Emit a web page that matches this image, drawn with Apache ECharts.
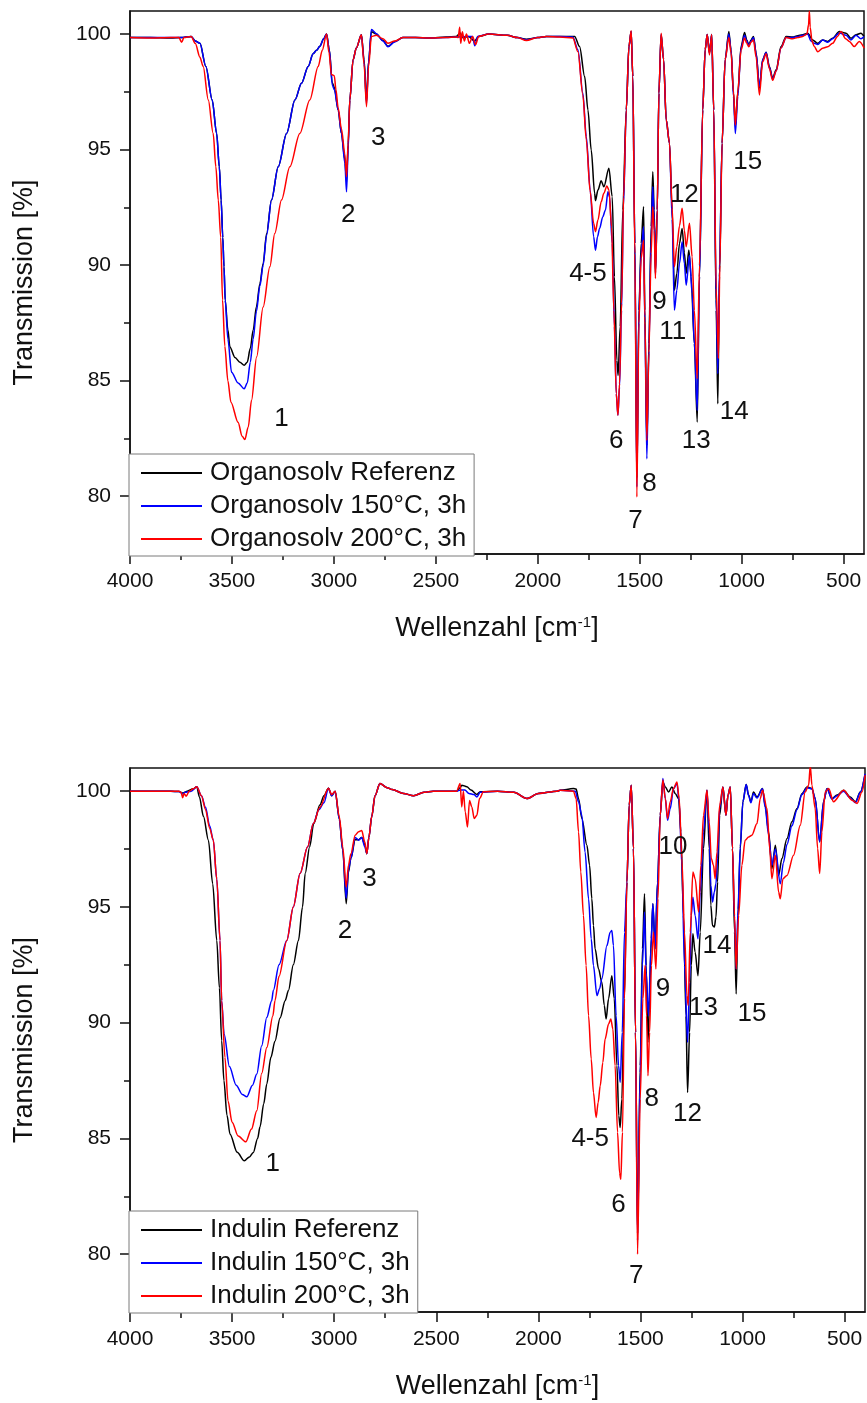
<!DOCTYPE html>
<html>
<head>
<meta charset="utf-8">
<title>FTIR Organosolv / Indulin</title>
<script src="https://cdn.jsdelivr.net/npm/echarts@6/dist/echarts.min.js"></script>
<style>
  html, body { margin: 0; padding: 0; background: #ffffff; }
  #chart { width: 867px; height: 1403px; }
</style>
</head>
<body>
<div id="chart"></div>
<script>
// ---- axis ticks ----
const xMajorTicks = [4000, 3500, 3000, 2500, 2000, 1500, 1000, 500];
const xMinorTicks = [3750, 3250, 2750, 2250, 1750, 1250, 750];
const yMajorTicks = [80, 85, 90, 95, 100];
const yMinorTicks = [82.5, 87.5, 92.5, 97.5];

// ---- series names ----
const topNames = ['Organosolv Referenz', 'Organosolv 150°C, 3h', 'Organosolv 200°C, 3h'];
const bottomNames = ['Indulin Referenz', 'Indulin 150°C, 3h', 'Indulin 200°C, 3h'];

// ---- spectra: [wavenumber (cm-1), transmission (%)] ----
const orgRef = [[4000,99.85],[3900,99.85],[3800,99.83],[3750,99.85],[3700,99.9],[3680,99.7],[3657,99.6],[3628,98.6],[3597,97.15],[3575,95.7],[3562,94.26],[3553,92.82],[3545,91.2],[3539,89.93],[3533,88.49],[3520,87.2],[3510,86.46],[3485,86.0],[3461,85.8],[3440,85.67],[3425,85.8],[3410,86.4],[3396,87.18],[3380,88.2],[3363,89.2],[3347,90.07],[3330,91.37],[3306,92.82],[3273,94.26],[3232,95.7],[3191,97.15],[3159,97.87],[3126,98.6],[3102,99.15],[3085,99.3],[3069,99.47],[3050,99.8],[3036,100.0],[3022,99.3],[3008,97.9],[2998,97.7],[2979,96.72],[2963,95.7],[2946,94.55],[2938,93.6],[2930,95.2],[2922,97.15],[2906,98.88],[2890,99.4],[2865,99.97],[2852,98.9],[2840,97.1],[2830,98.8],[2816,100.1],[2792,100.0],[2759,99.72],[2735,99.47],[2702,99.68],[2662,99.85],[2600,99.85],[2530,99.83],[2450,99.88],[2400,99.9],[2380,100.05],[2370,99.85],[2340,99.9],[2310,99.7],[2290,99.9],[2240,100.0],[2150,99.95],[2100,99.85],[2056,99.78],[2000,99.85],[1958,99.9],[1893,99.9],[1819,99.9],[1795,99.46],[1770,98.16],[1754,96.72],[1738,94.99],[1721,93.11],[1717,92.79],[1705,93.25],[1689,93.65],[1676,93.39],[1651,94.19],[1635,92.96],[1624,89.5],[1612,85.88],[1606,85.23],[1596,87.33],[1583,92.39],[1566,96.72],[1553,99.46],[1542,100.11],[1534,98.16],[1524,90.94],[1514,80.8],[1504,88.05],[1493,90.94],[1481,92.53],[1475,88.05],[1465,82.2],[1455,86.6],[1444,91.66],[1436,94.04],[1429,92.39],[1423,89.7],[1414,92.39],[1406,97.45],[1395,99.98],[1383,98.9],[1370,96.29],[1354,95.28],[1341,92.39],[1330,88.92],[1318,89.64],[1305,90.94],[1292,91.59],[1281,90.53],[1272,89.64],[1259,90.66],[1248,89.5],[1232,86.6],[1218,83.21],[1207,89.5],[1191,96.72],[1179,99.32],[1169,99.98],[1158,99.18],[1147,99.98],[1137,96.72],[1125,88.05],[1117,84.0],[1109,89.5],[1096,95.28],[1081,98.9],[1063,100.11],[1052,99.32],[1040,97.45],[1031,96.0],[1019,97.45],[1003,99.46],[986,100.07],[975,99.75],[965,99.53],[954,99.75],[942,99.9],[929,99.18],[913,97.66],[897,98.9],[880,99.21],[864,98.6],[848,98.09],[831,98.46],[807,99.46],[782,99.9],[750,99.87],[725,99.93],[701,99.97],[676,100.04],[652,99.75],[627,99.6],[603,99.75],[578,99.68],[554,99.82],[521,100.11],[488,100.04],[464,99.82],[439,99.97],[415,100.04],[400,99.9]];

const org150 = [[4000,99.85],[3900,99.85],[3800,99.85],[3750,99.85],[3700,99.9],[3680,99.7],[3657,99.6],[3628,98.6],[3597,97.15],[3575,95.7],[3562,94.26],[3553,92.82],[3545,91.2],[3539,89.93],[3533,88.49],[3520,86.8],[3502,85.37],[3470,84.9],[3440,84.65],[3425,84.9],[3410,85.8],[3396,86.8],[3380,88.0],[3363,89.1],[3347,90.0],[3330,91.3],[3306,92.82],[3273,94.26],[3232,95.7],[3191,97.15],[3159,97.87],[3126,98.6],[3102,99.15],[3085,99.3],[3069,99.47],[3050,99.8],[3036,100.0],[3022,99.3],[3008,97.8],[2998,97.6],[2979,96.72],[2963,95.7],[2946,94.4],[2938,93.18],[2930,95.0],[2922,97.15],[2906,98.88],[2890,99.4],[2865,99.97],[2852,98.8],[2840,97.0],[2830,98.8],[2816,100.2],[2792,100.02],[2759,99.7],[2735,99.45],[2702,99.66],[2662,99.85],[2600,99.85],[2530,99.83],[2450,99.85],[2400,99.88],[2340,99.9],[2320,99.9],[2309,99.5],[2295,99.9],[2240,100.0],[2150,99.95],[2100,99.85],[2056,99.76],[2000,99.85],[1958,99.9],[1893,99.9],[1828,99.87],[1803,99.32],[1779,97.45],[1762,95.57],[1743,93.25],[1726,91.23],[1717,90.65],[1707,91.23],[1697,91.59],[1681,92.1],[1668,92.39],[1656,93.18],[1648,92.96],[1635,90.94],[1624,87.33],[1615,84.44],[1607,83.5],[1599,84.73],[1589,88.05],[1580,92.5],[1566,96.72],[1553,99.46],[1542,100.11],[1534,98.16],[1524,90.94],[1514,80.4],[1504,88.05],[1493,90.5],[1481,91.66],[1475,87.5],[1465,81.62],[1455,86.3],[1444,91.2],[1436,93.39],[1429,92.0],[1423,89.64],[1414,92.39],[1406,97.45],[1395,99.98],[1383,98.9],[1370,96.29],[1354,95.28],[1341,92.0],[1330,88.05],[1318,88.92],[1305,90.07],[1292,91.01],[1281,90.07],[1272,89.13],[1256,90.43],[1243,88.77],[1232,86.6],[1218,83.71],[1207,89.5],[1191,96.72],[1179,99.32],[1169,99.98],[1158,99.18],[1147,99.98],[1137,96.72],[1125,88.5],[1117,85.3],[1109,89.8],[1096,95.28],[1081,98.9],[1063,100.0],[1052,99.3],[1040,97.3],[1031,95.7],[1019,97.3],[1003,99.4],[986,99.95],[975,99.7],[965,99.5],[954,99.7],[942,99.85],[929,99.15],[913,97.73],[897,98.9],[880,99.2],[864,98.55],[848,98.05],[831,98.4],[807,99.4],[782,99.85],[750,99.85],[725,99.9],[701,99.95],[676,100.0],[660,99.7],[644,99.6],[627,99.55],[603,99.75],[578,99.65],[554,99.8],[521,100.05],[488,99.95],[464,99.75],[439,99.95],[415,99.8],[400,99.9]];

const org200 = [[4000,99.85],[3900,99.83],[3800,99.85],[3760,99.85],[3747,99.65],[3735,99.85],[3700,99.9],[3680,99.6],[3657,99.0],[3641,98.6],[3616,97.15],[3592,95.7],[3579,94.26],[3567,92.82],[3555,91.2],[3546,88.49],[3535,86.5],[3520,85.0],[3505,84.07],[3470,83.2],[3450,82.6],[3437,82.45],[3420,83.0],[3404,84.15],[3379,86.03],[3347,88.19],[3314,89.93],[3290,91.37],[3257,92.82],[3216,94.26],[3167,95.7],[3118,97.15],[3077,98.6],[3057,99.3],[3036,100.0],[3024,99.2],[3012,98.25],[2998,98.2],[2990,97.6],[2979,96.8],[2963,95.9],[2946,94.8],[2938,93.83],[2930,95.3],[2922,97.15],[2906,98.88],[2890,99.4],[2865,99.97],[2852,98.7],[2840,96.86],[2830,98.6],[2816,99.9],[2792,99.95],[2759,99.8],[2735,99.6],[2702,99.7],[2662,99.85],[2600,99.85],[2530,99.83],[2450,99.85],[2400,99.87],[2390,99.85],[2383,100.3],[2378,99.6],[2370,100.1],[2360,99.7],[2350,100.0],[2335,99.6],[2320,99.9],[2305,99.55],[2290,99.9],[2240,100.0],[2150,99.95],[2100,99.85],[2056,99.72],[2000,99.85],[1958,99.9],[1893,99.87],[1828,99.83],[1803,99.24],[1779,97.37],[1762,95.42],[1743,93.18],[1726,91.81],[1717,91.45],[1705,91.95],[1689,92.74],[1676,93.11],[1661,93.43],[1651,93.25],[1638,91.66],[1627,88.05],[1615,84.44],[1607,83.5],[1599,84.87],[1589,88.34],[1579,92.96],[1566,96.72],[1553,99.46],[1542,100.15],[1534,98.16],[1524,90.5],[1514,79.97],[1504,87.5],[1493,90.3],[1481,91.08],[1475,87.8],[1465,82.41],[1455,86.2],[1444,90.5],[1436,92.53],[1429,91.5],[1423,89.42],[1414,92.39],[1406,97.45],[1395,100.04],[1383,98.9],[1370,96.29],[1354,95.28],[1341,92.5],[1330,89.93],[1318,90.8],[1305,91.7],[1292,92.46],[1281,91.5],[1272,90.8],[1256,91.81],[1243,90.36],[1232,88.05],[1218,85.09],[1207,90.0],[1191,96.72],[1179,99.32],[1169,99.98],[1158,99.1],[1147,99.98],[1137,96.72],[1125,89.0],[1114,85.96],[1107,90.0],[1096,95.28],[1081,98.9],[1063,99.85],[1052,99.2],[1040,97.5],[1031,96.07],[1019,97.5],[1003,99.3],[986,99.83],[975,99.6],[965,99.45],[954,99.65],[942,99.75],[929,99.0],[913,97.37],[897,98.8],[880,99.15],[864,98.5],[848,98.0],[831,98.4],[807,99.4],[782,99.85],[750,99.8],[725,99.85],[701,99.9],[680,100.0],[672,100.4],[668,101.0],[664,100.3],[655,99.7],[644,99.46],[627,99.24],[603,99.39],[578,99.45],[554,99.6],[530,99.9],[513,100.11],[490,99.8],[472,99.68],[448,99.46],[423,99.68],[399,99.39]];

const indRef = [[4000,100.0],[3900,100.0],[3800,100.0],[3760,99.98],[3740,99.92],[3720,100.0],[3690,100.1],[3673,100.19],[3660,99.75],[3640,98.9],[3616,97.88],[3595,96.0],[3575,93.55],[3562,91.5],[3551,89.22],[3540,87.5],[3525,86.0],[3510,85.18],[3475,84.4],[3440,84.03],[3415,84.2],[3396,84.39],[3375,85.0],[3363,85.5],[3345,86.5],[3330,87.35],[3310,88.5],[3290,89.2],[3265,90.2],[3240,90.95],[3224,91.39],[3200,92.5],[3175,93.55],[3155,95.0],[3142,96.44],[3120,97.6],[3100,98.6],[3070,99.4],[3050,99.8],[3028,100.12],[3012,99.8],[2995,100.0],[2975,98.8],[2958,97.45],[2941,95.14],[2930,96.5],[2918,97.1],[2897,97.9],[2880,97.9],[2865,98.0],[2850,97.7],[2840,97.3],[2830,98.0],[2816,98.9],[2800,99.8],[2776,100.33],[2740,100.15],[2716,100.07],[2660,99.9],[2611,99.8],[2560,99.95],[2515,100.0],[2450,100.0],[2400,100.0],[2383,100.15],[2375,100.26],[2350,100.19],[2330,100.05],[2301,99.86],[2285,99.97],[2200,100.0],[2120,99.95],[2056,99.68],[2000,99.9],[1909,100.0],[1893,100.04],[1828,100.11],[1815,100.09],[1803,99.68],[1787,98.82],[1762,97.66],[1749,96.8],[1738,95.35],[1730,94.2],[1722,93.19],[1705,92.32],[1689,91.75],[1677,90.74],[1668,90.16],[1656,91.03],[1640,92.03],[1628,91.03],[1615,88.14],[1606,85.98],[1599,85.47],[1591,86.7],[1579,91.03],[1566,96.08],[1555,99.39],[1545,100.26],[1534,97.52],[1524,89.58],[1514,80.9],[1501,88.14],[1490,93.19],[1480,95.57],[1472,92.47],[1463,89.15],[1455,91.03],[1447,93.62],[1439,95.14],[1428,93.19],[1416,96.08],[1403,98.96],[1390,100.4],[1378,100.18],[1362,99.96],[1346,100.18],[1329,99.89],[1313,99.68],[1302,98.24],[1289,94.63],[1277,90.3],[1269,86.98],[1259,89.58],[1251,92.47],[1243,93.84],[1232,93.04],[1218,92.03],[1207,93.91],[1191,97.52],[1174,100.04],[1163,97.52],[1155,95.07],[1147,94.2],[1138,94.13],[1130,94.56],[1122,96.08],[1112,98.96],[1096,100.18],[1081,98.96],[1071,99.83],[1060,100.18],[1049,97.52],[1039,93.91],[1031,91.24],[1022,94.63],[1011,97.52],[998,99.54],[982,100.29],[970,99.83],[959,99.54],[946,99.96],[929,99.75],[902,100.11],[889,99.39],[872,98.24],[856,96.65],[839,97.66],[823,96.36],[807,97.09],[782,97.95],[758,98.68],[733,99.25],[709,99.89],[684,100.18],[660,100.11],[644,99.68],[622,97.81],[603,99.54],[586,100.11],[562,99.68],[537,99.83],[505,100.04],[472,99.75],[447,99.54],[423,99.96],[400,100.7]];

const ind150 = [[4000,100.0],[3800,100.0],[3760,99.98],[3742,99.88],[3730,99.95],[3700,100.0],[3673,100.19],[3650,99.8],[3630,99.3],[3610,98.5],[3592,97.88],[3575,96.2],[3559,93.55],[3551,90.95],[3539,89.51],[3513,88.1],[3480,87.3],[3450,86.9],[3428,86.8],[3400,87.3],[3379,87.78],[3355,89.0],[3330,90.23],[3306,90.95],[3298,91.39],[3270,92.5],[3232,93.55],[3200,95.0],[3167,96.44],[3130,97.6],[3102,98.6],[3075,99.2],[3050,99.5],[3028,100.12],[3012,99.8],[2995,100.0],[2975,98.8],[2958,97.45],[2941,95.37],[2930,96.6],[2918,97.1],[2897,98.0],[2880,97.88],[2865,98.0],[2850,97.6],[2840,97.3],[2830,98.0],[2816,98.9],[2800,99.8],[2776,100.33],[2740,100.15],[2716,100.07],[2660,99.9],[2611,99.8],[2560,99.95],[2515,100.0],[2400,100.0],[2383,100.05],[2360,100.05],[2340,99.9],[2315,99.85],[2301,99.75],[2285,99.95],[2200,100.0],[2120,99.95],[2056,99.68],[2000,99.9],[1909,100.0],[1893,100.04],[1819,100.0],[1803,99.54],[1787,98.96],[1771,97.37],[1754,95.35],[1741,93.62],[1730,92.47],[1713,91.17],[1700,91.46],[1689,91.9],[1664,93.33],[1648,93.91],[1640,93.98],[1632,93.33],[1619,90.3],[1607,88.14],[1599,87.42],[1589,89.58],[1578,93.91],[1566,96.08],[1555,99.39],[1545,100.26],[1534,97.52],[1524,89.58],[1514,80.6],[1501,87.85],[1490,92.5],[1480,94.78],[1472,92.18],[1460,90.3],[1449,93.19],[1439,95.14],[1428,93.19],[1416,96.08],[1403,98.96],[1390,100.55],[1378,99.68],[1367,98.74],[1354,99.25],[1338,100.11],[1321,100.33],[1310,99.54],[1297,96.8],[1284,92.47],[1269,89.15],[1259,91.75],[1251,94.63],[1243,95.42],[1232,94.63],[1218,93.62],[1207,95.64],[1191,98.24],[1174,100.04],[1163,98.24],[1155,95.93],[1147,95.21],[1138,95.64],[1130,96.0],[1122,97.09],[1112,99.25],[1096,100.18],[1081,98.96],[1071,99.83],[1060,100.18],[1049,97.52],[1039,94.5],[1031,92.32],[1022,94.9],[1011,97.6],[998,99.54],[982,100.29],[970,99.8],[959,99.5],[946,99.9],[929,99.7],[902,100.1],[889,99.3],[872,98.1],[856,96.8],[839,97.5],[815,96.0],[800,96.9],[782,97.7],[758,98.5],[733,99.2],[709,99.85],[684,100.15],[660,100.1],[644,99.68],[622,97.81],[603,99.54],[586,100.1],[562,99.65],[537,99.8],[505,100.0],[472,99.7],[447,99.5],[423,99.95],[400,100.75]];

const ind200 = [[4000,100.0],[3800,100.0],[3760,100.0],[3750,99.95],[3742,99.72],[3735,99.9],[3725,99.78],[3710,100.0],[3690,100.1],[3673,100.19],[3650,99.8],[3630,99.2],[3610,98.4],[3592,97.88],[3575,96.2],[3559,93.55],[3551,90.95],[3535,88.5],[3520,86.62],[3500,85.7],[3470,85.1],[3433,84.85],[3405,85.4],[3379,86.19],[3355,87.8],[3330,88.93],[3300,90.3],[3290,90.95],[3270,92.0],[3232,93.55],[3200,95.0],[3167,96.44],[3130,97.6],[3102,98.6],[3070,99.3],[3028,100.12],[3012,99.85],[2995,100.0],[2975,98.9],[2958,97.6],[2941,95.86],[2930,96.8],[2918,97.3],[2897,98.1],[2880,98.25],[2865,98.3],[2850,97.8],[2840,97.3],[2830,98.0],[2816,98.9],[2800,99.8],[2776,100.33],[2740,100.15],[2716,100.07],[2660,99.9],[2611,99.8],[2560,99.95],[2515,100.0],[2400,100.0],[2383,100.33],[2375,99.32],[2367,100.0],[2358,99.1],[2347,98.45],[2337,99.6],[2326,99.32],[2314,98.82],[2301,98.96],[2288,99.68],[2269,99.97],[2200,100.0],[2120,99.95],[2056,99.68],[2000,99.9],[1909,100.0],[1893,100.04],[1828,100.0],[1815,99.68],[1803,98.24],[1792,96.51],[1779,94.63],[1766,92.47],[1754,90.3],[1741,88.43],[1730,86.98],[1717,85.9],[1707,86.55],[1697,87.27],[1684,88.28],[1673,89.29],[1656,89.94],[1645,90.16],[1635,89.73],[1624,88.14],[1612,85.26],[1602,83.5],[1596,83.23],[1588,85.26],[1578,91.03],[1566,96.08],[1555,99.39],[1545,100.26],[1534,97.52],[1524,89.58],[1514,80.0],[1501,86.7],[1488,91.03],[1477,92.47],[1470,90.3],[1463,87.71],[1455,89.58],[1446,92.47],[1436,93.91],[1424,92.32],[1414,95.35],[1403,98.96],[1390,100.48],[1378,99.68],[1367,98.82],[1354,99.54],[1338,100.11],[1321,100.4],[1310,99.68],[1297,97.09],[1284,93.91],[1272,91.17],[1266,90.74],[1256,93.91],[1243,96.51],[1232,96.22],[1215,94.78],[1204,96.8],[1191,98.96],[1174,100.04],[1163,98.67],[1153,97.09],[1142,96.8],[1134,96.22],[1125,97.37],[1112,99.39],[1096,100.18],[1081,98.96],[1071,99.83],[1060,100.18],[1049,97.52],[1039,94.63],[1031,92.32],[1019,94.63],[1003,96.8],[987,97.88],[970,98.02],[954,98.1],[929,98.6],[913,99.68],[902,100.04],[880,99.25],[867,97.52],[856,96.22],[839,97.23],[823,95.64],[815,95.35],[802,96.22],[782,96.36],[750,97.23],[717,98.53],[693,99.96],[676,100.26],[668,101.1],[660,100.26],[644,99.25],[632,97.52],[622,96.44],[611,98.24],[595,99.96],[578,100.11],[554,99.54],[505,100.04],[464,99.61],[439,99.47],[415,99.96],[399,100.69]];

// ---- band numbers and their anchor points (wavenumber, transmission) ----
const peakLabelsTop = ['1', '2', '3', '4-5', '6', '7', '8', '9', '11', '12', '13', '14', '15'];
const peakWnTop = [3257, 2930, 2783, 1754, 1615, 1521, 1452, 1403, 1338, 1281, 1223, 1036, 970];
const peakTTop = [83.35, 92.17, 95.49, 89.64, 82.41, 78.95, 80.54, 88.41, 87.11, 93.03, 82.41, 83.64, 94.48];

const peakLabelsBottom = ['1', '2', '3', '4-5', '6', '7', '8', '9', '10', '12', '13', '14', '15'];
const peakWnBottom = [3301, 2947, 2827, 1746, 1607, 1521, 1444, 1390, 1341, 1269, 1191, 1125, 954];
const peakTBottom = [83.88, 93.98, 96.22, 84.97, 82.15, 79.05, 86.7, 91.46, 97.59, 86.05, 90.66, 93.33, 90.38];

// ---- styling ----
const FONT = '"Liberation Sans", Arial, Helvetica, sans-serif';
const INK = '#111111';
const COLORS = ['#000000', '#0000ff', '#ff0000'];

const chart = echarts.init(document.getElementById('chart'), null, { renderer: 'canvas' });

function xAxesFor(g) {
  const base = { gridIndex: g, type: 'value', inverse: true, min: 400, max: 4000, position: 'bottom', splitLine: { show: false } };
  return [
    Object.assign({}, base, {
      axisLine: { show: true, onZero: false, lineStyle: { color: INK, width: 1.5 } },
      axisTick: { show: true, length: 10, customValues: xMajorTicks, lineStyle: { color: INK, width: 1.5 } },
      axisLabel: { show: true, customValues: xMajorTicks, formatter: v => String(v), fontSize: 21, margin: 17, color: INK, fontFamily: FONT },
      name: 'Wellenzahl [cm{sup|-1}]',
      nameLocation: 'middle',
      nameGap: 61,
      nameTextStyle: { fontSize: 27, color: INK, fontFamily: FONT,
        rich: { sup: { fontSize: 15, verticalAlign: 'top', color: INK, fontFamily: FONT } } }
    }),
    Object.assign({}, base, {
      axisLine: { show: false, onZero: false },
      axisTick: { show: true, length: 6, customValues: xMinorTicks, lineStyle: { color: INK, width: 1.5 } },
      axisLabel: { show: false }
    })
  ];
}

function yAxesFor(g) {
  const base = { gridIndex: g, type: 'value', min: 77.5, max: 101, position: 'left', splitLine: { show: false } };
  return [
    Object.assign({}, base, {
      axisLine: { show: true, onZero: false, lineStyle: { color: INK, width: 1.5 } },
      axisTick: { show: true, length: 10, customValues: yMajorTicks, lineStyle: { color: INK, width: 1.5 } },
      axisLabel: { show: true, customValues: yMajorTicks, formatter: v => String(v), fontSize: 21, margin: 19, color: INK, fontFamily: FONT },
      name: 'Transmission [%]',
      nameLocation: 'middle',
      nameRotate: 90,
      nameGap: 92,
      nameTextStyle: { fontSize: 27, color: INK, fontFamily: FONT }
    }),
    Object.assign({}, base, {
      axisLine: { show: false, onZero: false },
      axisTick: { show: true, length: 6, customValues: yMinorTicks, lineStyle: { color: INK, width: 1.5 } },
      axisLabel: { show: false }
    })
  ];
}

function spectrum(name, data, colorIdx, g) {
  return {
    name: name, type: 'line', data: data,
    xAxisIndex: g * 2, yAxisIndex: g * 2,
    showSymbol: false, symbol: 'none',
    smooth: 0.3, smoothMonotone: 'x',
    lineStyle: { color: COLORS[colorIdx], width: 1.5 },
    itemStyle: { color: COLORS[colorIdx] },
    z: 2 + colorIdx
  };
}

// band numbers drawn as text anchored at data coordinates
function bandLabels(labels, wn, tr, g) {
  return {
    type: 'scatter', silent: true,
    xAxisIndex: g * 2, yAxisIndex: g * 2,
    data: labels.map((t, k) => [wn[k], tr[k], t]),
    symbol: 'circle', symbolSize: 1,
    itemStyle: { color: 'rgba(255,255,255,0)' },
    label: { show: true, position: 'inside', formatter: p => p.value[2],
      fontSize: 26, color: INK, opacity: 1, textBorderWidth: 0, fontFamily: FONT },
    emphasis: { disabled: true },
    labelLayout: { hideOverlap: false },
    z: 10
  };
}

function legendFor(names, top) {
  return {
    data: names,
    orient: 'vertical', left: 129, top: top,
    icon: 'rect', itemWidth: 61, itemHeight: 2, itemGap: 5,
    padding: [5, 8, 3, 12],
    backgroundColor: '#ffffff', borderColor: '#7a7a7a', borderWidth: 1, borderRadius: 0,
    textStyle: { fontSize: 26, lineHeight: 28, color: INK, fontFamily: FONT, padding: [0, 0, 0, 3] },
    selectedMode: false,
    z: 20
  };
}

const option = {
  animation: false,
  backgroundColor: '#ffffff',
  grid: [
    { left: 130, top: 11, width: 734, height: 543, show: true, borderColor: INK, borderWidth: 1.5, backgroundColor: 'transparent' },
    { left: 130, top: 768, width: 735, height: 544, show: true, borderColor: INK, borderWidth: 1.5, backgroundColor: 'transparent' }
  ],
  xAxis: xAxesFor(0).concat(xAxesFor(1)),
  yAxis: yAxesFor(0).concat(yAxesFor(1)),
  legend: [legendFor(topNames, 454), legendFor(bottomNames, 1211)],
  series: [
    spectrum(topNames[0], orgRef, 0, 0),
    spectrum(topNames[1], org150, 1, 0),
    spectrum(topNames[2], org200, 2, 0),
    bandLabels(peakLabelsTop, peakWnTop, peakTTop, 0),
    spectrum(bottomNames[0], indRef, 0, 1),
    spectrum(bottomNames[1], ind150, 1, 1),
    spectrum(bottomNames[2], ind200, 2, 1),
    bandLabels(peakLabelsBottom, peakWnBottom, peakTBottom, 1)
  ]
};

chart.setOption(option);
</script>
</body>
</html>
